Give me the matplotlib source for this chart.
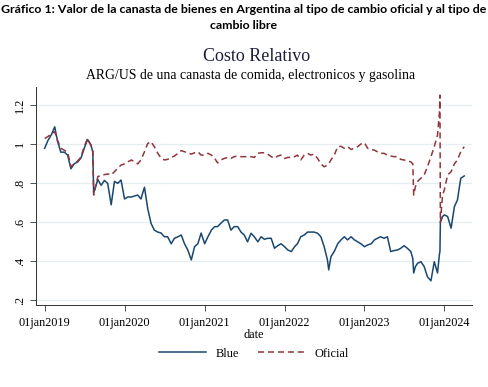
import pandas as pd
import matplotlib.pyplot as plt
import matplotlib.dates as mdates

# fechas y valores (aprox. cada quincena, mas puntos en los saltos)
fechas = [
    "2019-01-01", "2019-01-16", "2019-02-01", "2019-02-16", "2019-03-01", "2019-03-16",
    "2019-04-01", "2019-04-16", "2019-05-01", "2019-05-16", "2019-06-01", "2019-06-16",
    "2019-07-01", "2019-07-16", "2019-08-01", "2019-08-09", "2019-08-13", "2019-09-01",
    "2019-09-16", "2019-10-01", "2019-10-16", "2019-11-01", "2019-11-16", "2019-12-01",
    "2019-12-16",
    "2020-01-01", "2020-01-16", "2020-02-01", "2020-02-16", "2020-03-01", "2020-03-16",
    "2020-04-01", "2020-04-16", "2020-05-01", "2020-05-16", "2020-06-01", "2020-06-16",
    "2020-07-01", "2020-07-16", "2020-08-01", "2020-08-16", "2020-09-01", "2020-09-16",
    "2020-10-01", "2020-10-16", "2020-11-01", "2020-11-16", "2020-12-01", "2020-12-16",
    "2021-01-01", "2021-01-16", "2021-02-01", "2021-02-16", "2021-03-01", "2021-03-16",
    "2021-04-01", "2021-04-16", "2021-05-01", "2021-05-16", "2021-06-01", "2021-06-16",
    "2021-07-01", "2021-07-16", "2021-08-01", "2021-08-16", "2021-09-01", "2021-09-16",
    "2021-10-01", "2021-10-16", "2021-11-01", "2021-11-16", "2021-12-01", "2021-12-16",
    "2022-01-01", "2022-01-16", "2022-02-01", "2022-02-16", "2022-03-01", "2022-03-16",
    "2022-04-01", "2022-04-16", "2022-05-01", "2022-05-16", "2022-06-01", "2022-06-16",
    "2022-07-01", "2022-07-16", "2022-07-22", "2022-08-01", "2022-08-16", "2022-09-01",
    "2022-09-16", "2022-10-01", "2022-10-16", "2022-11-01", "2022-11-16", "2022-12-01",
    "2022-12-16",
    "2023-01-01", "2023-01-16", "2023-02-01", "2023-02-16", "2023-03-01", "2023-03-16",
    "2023-04-01", "2023-04-16", "2023-05-01", "2023-05-16", "2023-06-01", "2023-06-16",
    "2023-07-01", "2023-07-16", "2023-08-01", "2023-08-10", "2023-08-14", "2023-08-22",
    "2023-09-01", "2023-09-16", "2023-10-01", "2023-10-16", "2023-11-01", "2023-11-16",
    "2023-12-01", "2023-12-10", "2023-12-12", "2023-12-14", "2023-12-24",
    "2024-01-01", "2024-01-16", "2024-02-01", "2024-02-16", "2024-03-01", "2024-03-16",
    "2024-04-01",
]

blue = [
    0.98, 1.02, 1.05, 1.09, 1.015, 0.96,
    0.96, 0.945, 0.875, 0.90, 0.91, 0.93,
    0.98, 1.025, 0.995, 0.96, 0.75, 0.82,
    0.79, 0.815, 0.80, 0.69, 0.81, 0.80,
    0.817,
    0.72, 0.73, 0.73, 0.735, 0.74, 0.72,
    0.78, 0.67, 0.595, 0.56, 0.55, 0.545,
    0.526, 0.526, 0.49, 0.518, 0.526, 0.535,
    0.49, 0.458, 0.407, 0.475, 0.49, 0.545,
    0.49, 0.526, 0.56, 0.578, 0.578, 0.595,
    0.612, 0.612, 0.56, 0.578, 0.578, 0.55,
    0.535, 0.50, 0.544, 0.526, 0.50, 0.526,
    0.513, 0.518, 0.518, 0.467, 0.48, 0.49,
    0.475, 0.458, 0.45, 0.475, 0.49, 0.526,
    0.535, 0.55, 0.55, 0.55, 0.544, 0.526,
    0.475, 0.407, 0.356, 0.424, 0.45, 0.49,
    0.51, 0.526, 0.51, 0.526, 0.51, 0.50,
    0.49,
    0.475, 0.484, 0.49, 0.51, 0.518, 0.526,
    0.518, 0.526, 0.45, 0.455, 0.458, 0.467,
    0.48, 0.467, 0.45, 0.415, 0.34, 0.373,
    0.39, 0.398, 0.373, 0.32, 0.30, 0.398,
    0.34, 0.44, 0.45, 0.60, 0.63,
    0.638, 0.63, 0.57, 0.68, 0.715, 0.826,
    0.838,
]

oficial = [
    1.03, 1.04, 1.055, 1.065, 1.02, 0.98,
    0.97, 0.96, 0.885, 0.90, 0.915, 0.935,
    0.99, 1.03, 0.995, 0.97, 0.74, 0.835,
    0.84, 0.845, 0.848, 0.843, 0.86, 0.877,
    0.894,
    0.90, 0.91, 0.92, 0.91, 0.90, 0.92,
    0.962, 1.005, 1.014, 0.988, 0.954, 0.93,
    0.92, 0.923, 0.933, 0.94, 0.954, 0.968,
    0.962, 0.957, 0.95, 0.957, 0.962, 0.945,
    0.945, 0.954, 0.945, 0.928, 0.905, 0.92,
    0.928, 0.933, 0.928, 0.937, 0.94, 0.937,
    0.937, 0.937, 0.937, 0.933, 0.954, 0.957,
    0.957, 0.95, 0.937, 0.928, 0.94, 0.945,
    0.928, 0.933, 0.933, 0.937, 0.945, 0.92,
    0.945, 0.954, 0.945, 0.95, 0.928, 0.90,
    0.885, 0.894, 0.90, 0.92, 0.945, 0.988,
    0.99, 0.98, 0.988, 0.974, 0.98, 0.988,
    1.002,
    1.008, 0.98, 0.974, 0.97, 0.962, 0.954,
    0.954, 0.945, 0.94, 0.937, 0.937, 0.923,
    0.92, 0.916, 0.91, 0.90, 0.74, 0.783,
    0.81, 0.826, 0.843, 0.885, 0.937, 0.988,
    1.048, 1.168, 1.253, 0.60, 0.74,
    0.766, 0.843, 0.86, 0.90, 0.92, 0.962,
    0.988,
]

yticks = [0.2, 0.4, 0.6, 0.8, 1.0, 1.2]
ytick_labels = [".2", ".4", ".6", ".8", "1", "1.2"]
xtick_years = [2019, 2020, 2021, 2022, 2023, 2024]

df = pd.DataFrame({"date": pd.to_datetime(fechas), "blue": blue, "oficial": oficial})

color_blue = "#1a476f"
color_ofi = "#90353b"
serif = "Liberation Serif"

fig = plt.figure(figsize=(4.88, 3.87), dpi=100)
ax = fig.add_axes([0.074, 0.212, 0.893, 0.563])

ax.plot(df["date"], df["blue"], color=color_blue, lw=1.1, label="Blue")
ax.plot(df["date"], df["oficial"], color=color_ofi, lw=1.1, ls=(0, (4, 2.5)), label="Oficial")

ax.set_xlim(pd.Timestamp("2018-11-23"), pd.Timestamp("2024-05-06"))
ax.set_ylim(0.176, 1.294)

ax.set_yticks(yticks)
ax.set_yticklabels(ytick_labels, rotation=90, va="center", fontsize=8.8, family=serif)
xt = [pd.Timestamp(f"{y}-01-01") for y in xtick_years]
ax.set_xticks(xt)
ax.set_xticklabels([f"01jan{y}" for y in xtick_years], fontsize=8.8, family=serif)
ax.tick_params(axis="both", length=4, width=0.6, color="#333333", pad=3)
ax.tick_params(axis="x", pad=5)

ax.grid(axis="y", color="#e4eef0", lw=0.9)
ax.set_axisbelow(True)
for s in ["top", "right"]:
    ax.spines[s].set_visible(False)
for s in ["left", "bottom"]:
    ax.spines[s].set_linewidth(0.7)
    ax.spines[s].set_color("#333333")

ax.set_xlabel("date", fontsize=8.8, family=serif, labelpad=0)

leg = ax.legend(loc="upper center", bbox_to_anchor=(0.5, -0.145), ncol=2, frameon=False,
                prop={"family": serif, "size": 8.8}, handlelength=3.8, columnspacing=1.6)

fig.text(0.5, 0.99, "Gráfico 1: Valor de la canasta de bienes en Argentina al tipo de cambio oficial y al tipo de\ncambio libre",
         ha="center", va="top", fontsize=8.9, fontweight="bold", family="Lato", linespacing=1.6)
fig.text(0.526, 0.853, "Costo Relativo", ha="center", va="center", fontsize=13, family=serif, color="#1e1e3c")
fig.text(0.514, 0.806, "ARG/US de una canasta de comida, electronicos y gasolina",
         ha="center", va="center", fontsize=9.9, family=serif)

fig.savefig("out.png", dpi=100)
